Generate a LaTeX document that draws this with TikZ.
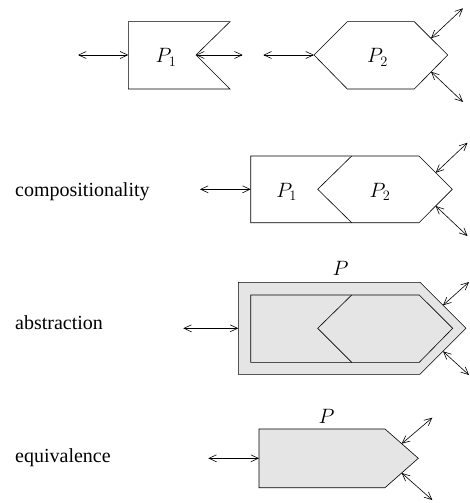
\documentclass[tikz,border=0pt]{standalone}
\usepackage[no-math]{fontspec}
\setmainfont{Liberation Serif}
\usepackage{tikz}
\usetikzlibrary{arrows.meta, positioning, calc}

\begin{document}
\begin{tikzpicture}[x=1pt, y=-1pt, font=\huge,
    biarrow/.style={{Straight Barb[length=7.5pt,width=7pt]}-{Straight Barb[length=7.5pt,width=7pt]}, line width=0.6pt},
    proc/.style={line width=0.6pt, line join=miter},
    procfill/.style={proc, fill=gray!20},
    lbl/.style={inner sep=0pt, anchor=base},
    rowlbl/.style={inner sep=0pt, anchor=base west, font=\fontsize{20}{24}\selectfont}]
    \useasboundingbox (0,0) rectangle (470,503);
    % Hai tiến trình P1, P2
    \draw[proc] (128.3,21.7) -- (230,21.7) -- (196,55) -- (230,89) -- (128.3,89) -- cycle;
    \draw[proc] (314,55) -- (347.3,21.7) -- (414.3,21.7) -- (447.7,55) -- (414.3,89) -- (347.3,89) -- cycle;
    \node[lbl] (p1) at (166,63) {$P_1$};
    \node[lbl] (p2) at (377.5,63) {$P_2$};
    \coordinate (a1) at (78,55);      \coordinate (b1) at (128.3,55);
    \coordinate (a2) at (196,55);     \coordinate (b2) at (242.7,55);
    \coordinate (a3) at (263.3,55);   \coordinate (b3) at (314,55);
    \coordinate (a4) at (431,38.3);   \coordinate (b4) at (463,8.3);
    \coordinate (a5) at (431,71.7);   \coordinate (b5) at (463,102);
    \foreach \k in {1,...,5} {
        \draw[biarrow] (a\k) -- (b\k);
    }
    % Ghép nối
    \node[rowlbl] (comp) at (15,196.5) {compositionality};
    \draw[proc] (250.7,156) -- (419,156) -- (452.3,189.3) -- (419,222.7) -- (250.7,222.7) -- cycle;
    \draw[proc] (351.7,156) -- (317.7,189.3) -- (351.7,222.7);
    \node[lbl] (q1) at (286.7,197.5) {$P_1$};
    \node[lbl] (q2) at (380,197.5) {$P_2$};
    \coordinate (c1) at (200,189.3);    \coordinate (d1) at (250.7,189.3);
    \coordinate (c2) at (435.7,172.7);  \coordinate (d2) at (467.5,142.7);
    \coordinate (c3) at (435.7,206);    \coordinate (d3) at (467.5,236);
    \foreach \k in {1,2,3} {
        \draw[biarrow] (c\k) -- (d\k);
    }
    % Trừu tượng hoá
    \node[rowlbl] (abst) at (15,329.3) {abstraction};
    \draw[procfill] (238.3,282.3) -- (420,282.3) -- (466,328.3) -- (420,374.3) -- (238.3,374.3) -- cycle;
    \draw[proc] (250.7,295) -- (419.3,295) -- (452.7,328.3) -- (419.3,362.3) -- (250.7,362.3) -- cycle;
    \draw[proc] (351.7,295) -- (317.7,328.3) -- (351.7,362.3);
    \node[lbl] (pa) at (340.5,275.5) {$P$};
    \coordinate (e1) at (183.3,328.3);  \coordinate (f1) at (238.3,328.3);
    \coordinate (e2) at (443,305.3);    \coordinate (f2) at (469,282);
    \coordinate (e3) at (443,351.3);    \coordinate (f3) at (469,375);
    \foreach \k in {1,2,3} {
        \draw[biarrow] (e\k) -- (f\k);
    }
    % Tương đương
    \node[rowlbl] (equi) at (15,462.7) {equivalence};
    \draw[procfill] (259,429) -- (385,429) -- (418.3,458.3) -- (385,487.7) -- (259,487.7) -- cycle;
    \node[lbl] (pe) at (326.7,423.3) {$P$};
    \coordinate (g1) at (208.3,458.3);  \coordinate (h1) at (259,458.3);
    \coordinate (g2) at (401.7,443.7);  \coordinate (h2) at (432.3,417.7);
    \coordinate (g3) at (401.7,473);    \coordinate (h3) at (432.3,500);
    \foreach \k in {1,2,3} {
        \draw[biarrow] (g\k) -- (h\k);
    }
\end{tikzpicture}
\end{document}
